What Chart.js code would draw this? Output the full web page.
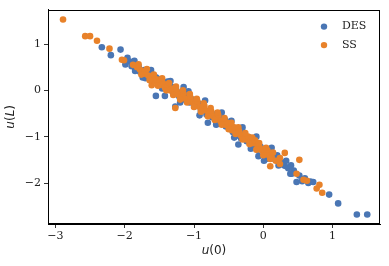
<!DOCTYPE html>
<html>
<head>
<meta charset="utf-8">
<script src="https://cdn.jsdelivr.net/npm/chart.js@4/dist/chart.umd.min.js"></script>
<style>
html,body{margin:0;padding:0;background:#fff;}
#wrap{width:389px;height:266px;}
</style>
</head>
<body>
<div id="wrap"><canvas id="c" width="389" height="266"></canvas></div>
<script>
const seriesNames = ["DES", "SS"];
const xTicks = [-3, -2, -1, 0, 1];
const yTicks = [-2, -1, 0, 1];
// [text, italic?]
const xLabel = [["u", true], ["(0)", false]];
const yLabel = [["u", true], ["(", false], ["L", true], [")", false]];

const desX = [-2.33,-2.20,-2.06,-1.99,-1.96,-1.85,-1.74,-1.52,-1.38,-1.55,-1.42,-1.15,-1.27,-0.96,-0.80,-0.55,-0.46,-0.36,-0.31,-0.07,0.01,0.31,0.39,0.44,0.41,0.48,0.65,0.68,0.95,1.08,1.35,1.50,
  -1.93,-1.90,-1.88,-1.84,-1.80,-1.78,-1.72,-1.68,-1.65,-1.62,-1.58,-1.55,-1.50,-1.47,-1.44,-1.40,-1.36,-1.33,-1.30,-1.26,-1.22,-1.18,-1.14,-1.10,-1.06,-1.02,-0.98,-0.94,-0.90,-0.86,-0.82,-0.78,-0.74,-0.70,-0.66,-0.62,-0.58,-0.54,-0.50,-0.44,-0.40,-0.36,-0.32,-0.28,-0.24,-0.20,-0.16,-0.12,-0.08,-0.04,0.02,0.06,0.10,0.16,0.20,0.24,0.28,0.33,0.36,0.40,0.52,0.56,0.60,0.72,
  -1.86,-1.70,-1.62,-1.46,-1.34,-1.20,-1.08,-0.92,-0.84,-0.68,-0.60,-0.42,-0.30,-0.18,-0.10,0.04,0.12,0.22];
const desY = [0.93,0.76,0.88,0.56,0.70,0.42,0.28,0.25,0.19,-0.12,-0.12,0.07,-0.35,-0.21,-0.70,-0.64,-0.66,-1.17,-0.85,-1.42,-1.52,-1.63,-1.80,-1.73,-1.80,-1.98,-2.00,-1.97,-2.25,-2.44,-2.68,-2.68,
  0.62,0.52,0.60,0.48,0.52,0.40,0.44,0.35,0.30,0.38,0.22,0.28,0.15,0.22,0.08,0.14,0.02,0.08,-0.05,0.03,-0.12,-0.04,-0.20,-0.14,-0.26,-0.20,-0.34,-0.28,-0.44,-0.36,-0.52,-0.44,-0.58,-0.52,-0.66,-0.58,-0.72,-0.78,-0.70,-0.90,-0.82,-0.98,-1.04,-0.92,-1.10,-1.02,-1.18,-1.12,-1.28,-1.22,-1.38,-1.44,-1.34,-1.48,-1.40,-1.54,-1.60,-1.52,-1.68,-1.62,-1.84,-1.96,-1.90,-1.98,
  0.64,0.26,0.44,0.04,0.20,-0.26,-0.02,-0.54,-0.22,-0.74,-0.48,-1.02,-0.80,-1.26,-1.00,-1.48,-1.24,-1.62];

const ssX = [-2.89,-2.57,-2.50,-2.40,-2.22,-2.04,-2.01,-1.88,-1.61,-1.27,0.31,0.52,0.24,0.24,0.10,0.48,0.58,0.63,0.81,0.77,0.85,
  -1.82,-1.78,-1.75,-1.72,-1.70,-1.66,-1.63,-1.60,-1.57,-1.54,-1.50,-1.48,-1.45,-1.42,-1.38,-1.35,-1.32,-1.28,-1.25,-1.22,-1.18,-1.15,-1.12,-1.08,-1.05,-1.02,-0.98,-0.95,-0.92,-0.88,-0.85,-0.82,-0.78,-0.75,-0.72,-0.68,-0.65,-0.62,-0.58,-0.55,-0.52,-0.48,-0.45,-0.42,-0.38,-0.35,-0.32,-0.28,-0.25,-0.22,-0.18,-0.15,-0.12,-0.08,-0.05,-0.02,0.02,0.06,0.08,0.12,
  -1.80,-1.76,-1.68,-1.64,-1.58,-1.52,-1.46,-1.40,-1.36,-1.30,-1.26,-1.20,-1.16,-1.10,-1.06,-1.00,-0.96,-0.90,-0.86,-0.80,-0.76,-0.70,-0.66,-0.60,-0.56,-0.50,-0.46,-0.40,-0.36,-0.30,-0.26,-0.20,-0.16,-0.10,-0.06,0.00,0.04,0.10,0.14,0.18];
const ssY = [1.53,1.17,1.17,1.07,0.90,0.66,0.65,0.55,0.11,-0.38,-1.35,-1.50,-1.46,-1.59,-1.64,-1.80,-1.93,-1.95,-2.04,-2.12,-2.21,
  0.50,0.45,0.40,0.36,0.42,0.32,0.28,0.30,0.20,0.24,0.18,0.12,0.16,0.06,0.10,0.00,0.04,-0.04,-0.02,-0.10,-0.14,-0.08,-0.18,-0.22,-0.16,-0.26,-0.30,-0.24,-0.36,-0.40,-0.34,-0.44,-0.50,-0.46,-0.56,-0.60,-0.54,-0.66,-0.68,-0.74,-0.70,-0.80,-0.86,-0.80,-0.92,-0.88,-0.98,-1.00,-1.06,-1.00,-1.10,-1.14,-1.08,-1.22,-1.24,-1.30,-1.33,-1.30,-1.40,-1.44,
  0.56,0.34,0.46,0.22,0.34,0.10,0.26,0.00,0.16,-0.10,0.08,-0.20,0.00,-0.26,-0.08,-0.36,-0.18,-0.46,-0.28,-0.56,-0.38,-0.64,-0.48,-0.74,-0.60,-0.84,-0.70,-0.94,-0.80,-1.06,-0.92,-1.16,-1.02,-1.28,-1.14,-1.40,-1.24,-1.48,-1.34,-1.52];

const colors = ["#4a76b4", "#e8822a"];
const toPts = (xs, ys) => xs.map((x, i) => ({x: x, y: ys[i]}));
const serif = "'DejaVu Serif', serif";

const framePlugin = {
  id: 'frame',
  afterDraw(chart) {
    const ctx = chart.ctx, a = chart.chartArea;
    ctx.save();
    ctx.strokeStyle = '#000';
    ctx.lineWidth = 1;
    ctx.strokeRect(Math.round(a.left) + 0.5, Math.round(a.top) + 0.5, Math.round(a.right - a.left) - 1, Math.round(a.bottom - a.top) - 1);
    ctx.font = "11px " + serif;
    ctx.textBaseline = 'middle';
    chart.data.datasets.forEach((ds, i) => {
      const y = a.top + 17 + i * 18.5;
      const x = a.right - 56;
      ctx.fillStyle = ds.backgroundColor;
      ctx.beginPath();
      ctx.arc(x, y, 3.2, 0, Math.PI * 2);
      ctx.fill();
      ctx.fillStyle = '#222';
      ctx.fillText(ds.label, x + 18, y);
    });
    const fontFor = it => (it ? "italic " : "") + "12px 'DejaVu Sans', sans-serif";
    const drawLabel = (parts, cx, cy, rot) => {
      ctx.save();
      ctx.translate(cx, cy);
      ctx.rotate(rot);
      ctx.fillStyle = '#222';
      ctx.textBaseline = 'middle';
      const widths = parts.map(p => { ctx.font = fontFor(p[1]); return ctx.measureText(p[0]).width; });
      let x = -widths.reduce((s, w) => s + w, 0) / 2;
      parts.forEach((p, i) => { ctx.font = fontFor(p[1]); ctx.fillText(p[0], x, 0); x += widths[i]; });
      ctx.restore();
    };
    drawLabel(xLabel, (a.left + a.right) / 2, 251, 0);
    drawLabel(yLabel, 11, (a.top + a.bottom) / 2, -Math.PI / 2);
    ctx.restore();
  }
};

new Chart(document.getElementById('c'), {
  type: 'scatter',
  data: {
    datasets: [
      {label: seriesNames[0], data: toPts(desX, desY), backgroundColor: colors[0], borderWidth: 0, pointRadius: 3.3, order: 2},
      {label: seriesNames[1], data: toPts(ssX, ssY), backgroundColor: colors[1], borderWidth: 0, pointRadius: 3.3, order: 1}
    ]
  },
  options: {
    responsive: false,
    animation: false,
    layout: {padding: {left: 0, top: 6, right: 9, bottom: 0}},
    plugins: {legend: {display: false}, tooltip: {enabled: false}},
    scales: {
      x: {
        type: 'linear', min: -3.107, max: 1.684,
        afterBuildTicks: s => { s.ticks = xTicks.map(v => ({value: v})); },
        afterFit: s => { s.height = 42; },
        ticks: {font: {family: serif, size: 11}, color: '#222', padding: 2, maxRotation: 0,
          callback: v => String(v).replace('-', '\u2212')},
        grid: {drawOnChartArea: false, drawTicks: true, tickLength: 4, color: '#000', tickWidth: 0.8},
        border: {display: true, color: '#000', width: 1}
      },
      y: {
        type: 'linear', min: -2.885, max: 1.743,
        afterBuildTicks: s => { s.ticks = yTicks.map(v => ({value: v})); },
        afterFit: s => { s.width = 48; },
        ticks: {font: {family: serif, size: 11}, color: '#222', padding: 3,
          callback: v => String(v).replace('-', '\u2212')},
        grid: {drawOnChartArea: false, drawTicks: true, tickLength: 4, color: '#000', tickWidth: 0.8},
        border: {display: true, color: '#000', width: 1}
      }
    }
  },
  plugins: [framePlugin]
});
</script>
</body>
</html>
